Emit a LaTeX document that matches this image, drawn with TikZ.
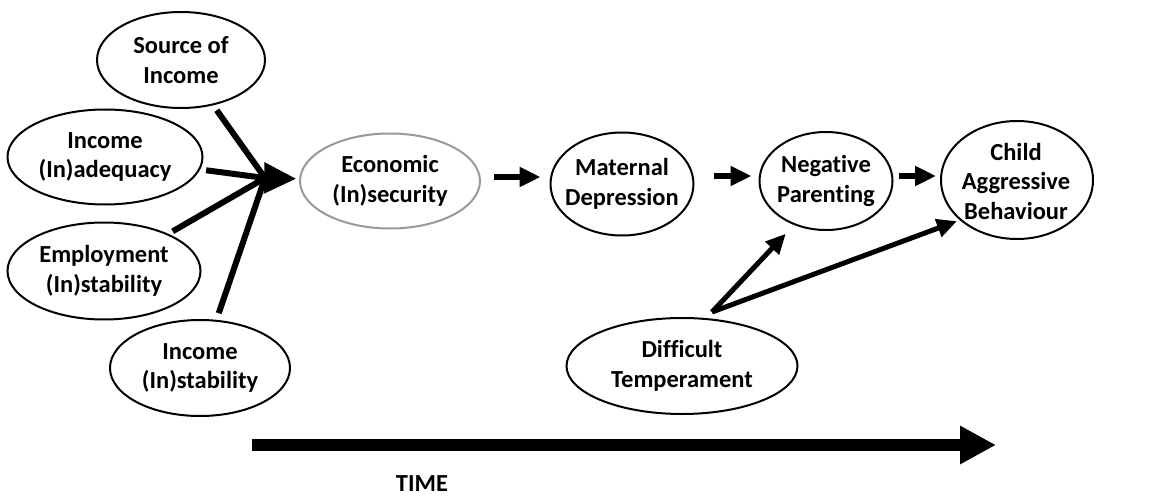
\documentclass[tikz,border=0pt]{standalone}
\usepackage{fontspec}
\setmainfont{Carlito}[Ligatures=NoCommon]
\usetikzlibrary{shapes.geometric,arrows.meta}
\begin{document}
\begin{tikzpicture}[x=1pt,y=-1pt,
  ell/.style={ellipse,draw=black,line width=2pt,inner sep=0pt},
  grayell/.style={ell,draw=black!40},
  txt/.style={align=center,inner sep=0pt,font=\fontsize{24.5}{29.5}\selectfont\bfseries},
  conn/.style={line width=6pt},
  arr/.style={line width=6pt,-{Triangle[length=21pt,width=19pt]}},
  thinarr/.style={line width=5pt,-{Triangle[length=20pt,width=18pt]}},
]
\useasboundingbox (0,0) rectangle (1151,500);
\node[ell,minimum width=168pt,minimum height=96pt] (src) at (181,60) {};
\node[txt] (srct) at (src.center) {Source of\\Income};
\node[ell,minimum width=195pt,minimum height=95pt] (adeq) at (105,157) {};
\node[txt] (adeqt) at (adeq.center) {Income\\(In)adequacy};
\node[ell,minimum width=193pt,minimum height=97pt] (emp) at (104,271) {};
\node[txt] (empt) at (emp.center) {Employment\\(In)stability};
\node[ell,minimum width=180pt,minimum height=96pt] (inst) at (200,368) {};
\node[txt] (instt) at (inst.center) {Income\\(In)stability};
\node[grayell,minimum width=180pt,minimum height=95pt] (econ) at (390,181) {};
\node[txt] (econt) at (econ.center) {Economic\\(In)security};
\node[ell,minimum width=143pt,minimum height=103pt] (mat) at (622,184) {};
\node[txt] (matt) at (mat.center) {Maternal\\Depression};
\node[ell,minimum width=133pt,minimum height=98pt] (neg) at (826,181) {};
\node[txt] (negt) at (neg.center) {Negative\\Parenting};
\node[ell,minimum width=152pt,minimum height=118pt] (child) at (1017,180) {};
\node[txt] (childt) at (1016,181) {Child\\Aggressive\\Behaviour};
\node[ell,minimum width=231pt,minimum height=96pt] (diff) at (682,366) {};
\node[txt] (difft) at (diff.center) {Difficult\\Temperament};
\coordinate (conv) at (265,178);
\coordinate (dtop) at (712,312);
\coordinate (t0) at (252,445);
\coordinate (t1) at (996,445);
\draw[conn,shorten <=6pt] (src) -- (conv);
\draw[conn,shorten <=6pt] (adeq) -- (conv);
\draw[conn,shorten <=5pt] (emp) -- (conv);
\draw[conn,shorten <=7pt] (inst) -- (conv);
\draw[line width=6pt,-{Triangle[length=32pt,width=30pt]},shorten >=3pt] (conv) -- (econ);
\draw[arr,shorten <=13pt,shorten >=9pt] (econ.east |- 0,177) -- (mat.west |- 0,177);
\draw[arr,shorten <=19pt,shorten >=7pt] (mat.east |- 0,176) -- (neg.west |- 0,176);
\draw[arr,shorten <=5pt,shorten >=4pt] (neg.east |- 0,176) -- (child.west |- 0,176);
\draw[thinarr,shorten >=12pt] (dtop) -- (neg.234);
\draw[thinarr,shorten >=3pt] (dtop) -- (child.215);
\draw[line width=12pt,-{Triangle[length=36pt,width=36pt]}] (t0) -- (t1);
\node[txt] (time) at (422,484) {TIME};
\end{tikzpicture}
\end{document}
